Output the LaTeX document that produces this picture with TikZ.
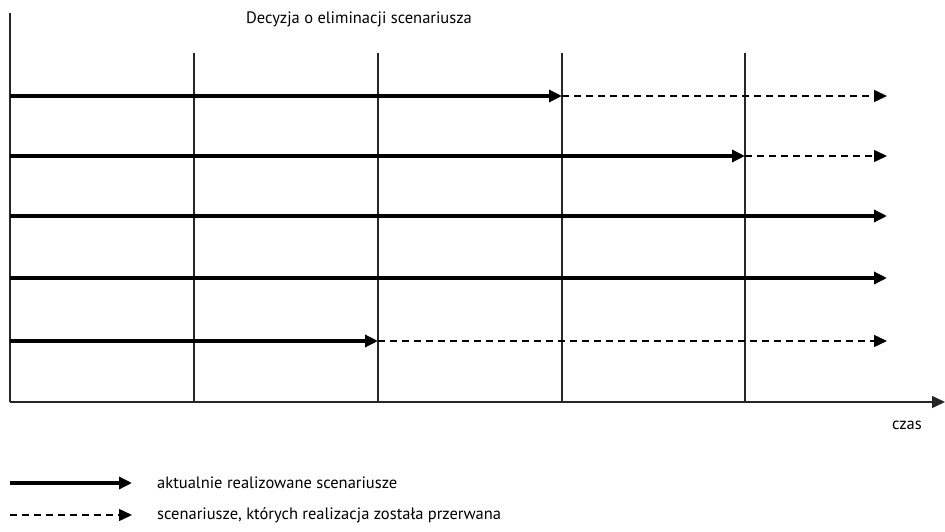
\documentclass[tikz,border=0pt]{standalone}
\usepackage{fontspec}
\setmainfont{PT Sans}
\usetikzlibrary{arrows.meta}

\tikzset{
	grid line/.style={line width=1.5pt,black!85},
	run/.style={line width=4pt,-{Triangle[length=13pt,width=12pt]}},
	stopped/.style={line width=1.5pt,dash pattern=on 7pt off 5pt,-{Triangle[length=13pt,width=12pt]}},
	lbl/.style={font=\fontsize{16.5}{18}\selectfont,inner sep=0pt}
}

\begin{document}
\begin{tikzpicture}[x=1pt,y=-1pt]
	\useasboundingbox (0,0) rectangle (945,532);

	% axes
	\draw[grid line] (10,13)--(10,402);
	\draw[grid line,-{Triangle[length=13pt,width=12pt]}] (10,402)--(945,402);

	\foreach \x in {194,378,562,745}{
		\draw[grid line] (\x,53)--(\x,402);
	}

	% scenarios
	\foreach \y/\s in {96/562,156/745,216/887,278/887,341/378}{
		\draw[run] (10,\y)--(\s,\y);
		\ifnum\s<887
			\draw[stopped] (\s,\y)--(887,\y);
		\fi
	}

	\node[lbl] (title) at (359,19) {Decyzja o eliminacji scenariusza};
	\node[lbl] (time) at (907,425) {czas};

	% legend
	\draw[run] (10,483)--(132,483);
	\draw[stopped] (10,515)--(132,515);
	\node[lbl,anchor=west] (cur) at (157,483) {aktualnie realizowane scenariusze};
	\node[lbl,anchor=west] (brk) at (157,515) {scenariusze, których realizacja została przerwana};
\end{tikzpicture}
\end{document}
